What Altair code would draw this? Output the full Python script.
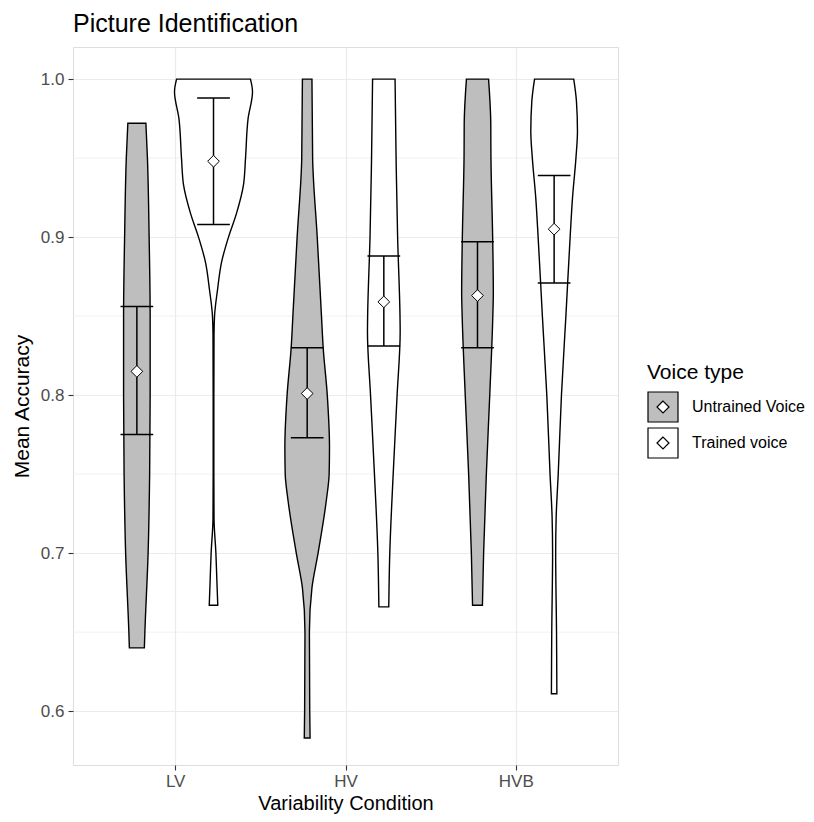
import altair as alt
import pandas as pd

categories = ["LV", "HV", "HVB"]
voice_types = ["Untrained Voice", "Trained voice"]

# ---- violin outlines: accuracy values and half-widths (category units) ----
lv_untrained_y = [0.640, 0.650, 0.700, 0.750, 0.800, 0.850, 0.900, 0.950, 0.972]
lv_untrained_w = [0.044, 0.047, 0.066, 0.075, 0.078, 0.078, 0.072, 0.062, 0.053]

lv_trained_y = [0.667, 0.685, 0.700, 0.722, 0.750, 0.800, 0.838, 0.850, 0.867,
                0.884, 0.900, 0.915, 0.933, 0.950, 0.975, 0.992, 1.000]
lv_trained_w = [0.025, 0.019, 0.014, 0.003, 0.002, 0.002, 0.003, 0.006, 0.024,
                0.047, 0.088, 0.135, 0.176, 0.188, 0.203, 0.229, 0.217]

hv_untrained_y = [0.583, 0.600, 0.650, 0.678, 0.700, 0.733, 0.750, 0.767, 0.800,
                  0.830, 0.850, 0.900, 0.950, 1.000]
hv_untrained_w = [0.017, 0.015, 0.013, 0.028, 0.064, 0.112, 0.129, 0.131, 0.118,
                  0.094, 0.084, 0.059, 0.032, 0.028]

hv_trained_y = [0.666, 0.700, 0.750, 0.800, 0.840, 0.850, 0.900, 0.950, 1.000]
hv_trained_w = [0.029, 0.035, 0.055, 0.078, 0.096, 0.095, 0.081, 0.072, 0.066]

hvb_untrained_y = [0.667, 0.700, 0.750, 0.800, 0.850, 0.865, 0.900, 0.950, 0.972, 1.000]
hvb_untrained_w = [0.029, 0.036, 0.052, 0.072, 0.090, 0.093, 0.089, 0.079, 0.078, 0.065]

hvb_trained_y = [0.611, 0.650, 0.700, 0.723, 0.750, 0.800, 0.850, 0.900, 0.925,
                 0.950, 0.967, 0.986, 1.000]
hvb_trained_w = [0.016, 0.014, 0.009, 0.012, 0.024, 0.043, 0.069, 0.094, 0.108,
                 0.128, 0.137, 0.131, 0.115]

# ---- means and error bars ----
mean_untrained = [0.815, 0.801, 0.863]
lower_untrained = [0.775, 0.773, 0.830]
upper_untrained = [0.856, 0.830, 0.897]
mean_trained = [0.948, 0.859, 0.905]
lower_trained = [0.908, 0.831, 0.871]
upper_trained = [0.988, 0.888, 0.939]

# ---- build tables ----
dodge = {"Untrained Voice": -0.225, "Trained voice": 0.225}
profiles = [
    ("LV", "Untrained Voice", lv_untrained_y, lv_untrained_w),
    ("LV", "Trained voice", lv_trained_y, lv_trained_w),
    ("HV", "Untrained Voice", hv_untrained_y, hv_untrained_w),
    ("HV", "Trained voice", hv_trained_y, hv_trained_w),
    ("HVB", "Untrained Voice", hvb_untrained_y, hvb_untrained_w),
    ("HVB", "Trained voice", hvb_trained_y, hvb_trained_w),
]
rows = []
for cat, vt, ys, ws in profiles:
    c = categories.index(cat) + 1 + dodge[vt]
    for y, w in zip(ys, ws):
        rows.append({"violin": cat + "-" + vt, "voice": vt, "value": y,
                     "left": c - w, "right": c + w})
vdf = pd.DataFrame(rows).sort_values(["violin", "value"])

cap = 0.096
erows = []
for i, cat in enumerate(categories):
    for vt, m, lo, hi in [("Untrained Voice", mean_untrained[i], lower_untrained[i], upper_untrained[i]),
                          ("Trained voice", mean_trained[i], lower_trained[i], upper_trained[i])]:
        c = i + 1 + dodge[vt]
        erows.append({"voice": vt, "x": c, "xl": c - cap, "xr": c + cap,
                      "mean": m, "lower": lo, "upper": hi})
edf = pd.DataFrame(erows)

minor_breaks = [0.65, 0.75, 0.85, 0.95]
mdf = pd.DataFrame({"v": minor_breaks})

FONT = "Liberation Sans"
xscale = alt.Scale(domain=[0.4, 3.6], nice=False, zero=False)
yscale = alt.Scale(domain=[0.5659, 1.0203], nice=False, zero=False)

xaxis = alt.Axis(values=[1, 2, 3], labelExpr="['LV','HV','HVB'][datum.value - 1]",
                 title="Variability Condition", grid=True, gridColor="#EBEBEB",
                 gridWidth=1.2, domain=False, tickColor="#333333", tickSize=5,
                 tickWidth=1.1, labelColor="#4D4D4D", labelFontSize=17, labelFont=FONT,
                 labelPadding=3, titleFont=FONT, titleFontSize=20, titleColor="black",
                 titleFontWeight="normal", titlePadding=4)
yaxis = alt.Axis(values=[0.6, 0.7, 0.8, 0.9, 1.0], format=".1f", title="Mean Accuracy",
                 grid=True, gridColor="#EBEBEB", gridWidth=1.2, domain=False,
                 tickColor="#333333", tickSize=5, tickWidth=1.1, labelColor="#4D4D4D",
                 labelFontSize=17, labelFont=FONT, labelPadding=4, titleFont=FONT,
                 titleFontSize=21, titleColor="black", titleFontWeight="normal",
                 titlePadding=8)

minor = alt.Chart(mdf).mark_rule(color="#EBEBEB", strokeWidth=0.7).encode(
    y=alt.Y("v:Q", scale=yscale, axis=yaxis)
)

legend_path = "M-1,-1H1V1H-1Z M0,-0.4L-0.4,0L0,0.4L0.4,0Z"
violins = alt.Chart(vdf).mark_area(
    orient="horizontal", stroke="black", strokeWidth=1.4, interpolate="monotone"
).encode(
    y=alt.Y("value:Q", scale=yscale, axis=yaxis),
    x=alt.X("left:Q", scale=xscale, axis=xaxis),
    x2="right:Q",
    fill=alt.Fill("voice:N",
                  scale=alt.Scale(domain=voice_types, range=["#BEBEBE", "#FFFFFF"]),
                  legend=alt.Legend(title="Voice type", orient="none", legendX=574,
                                    legendY=315, symbolType=legend_path, symbolSize=900,
                                    symbolStrokeColor="black", symbolStrokeWidth=1.2,
                                    symbolOpacity=1,
                                    titleFont=FONT, titleFontSize=21,
                                    titleFontWeight="normal", titleColor="black",
                                    titlePadding=8, labelFont=FONT, labelFontSize=16,
                                    labelColor="black", labelOffset=13, rowPadding=0,
                                    labelLimit=300)),
    detail="violin:N",
)

stems = alt.Chart(edf).mark_rule(color="black", strokeWidth=1.5).encode(
    x=alt.X("x:Q", scale=xscale), y=alt.Y("lower:Q", scale=yscale), y2="upper:Q"
)
caps_hi = alt.Chart(edf).mark_rule(color="black", strokeWidth=1.5).encode(
    x=alt.X("xl:Q", scale=xscale), x2="xr:Q", y=alt.Y("upper:Q", scale=yscale)
)
caps_lo = alt.Chart(edf).mark_rule(color="black", strokeWidth=1.5).encode(
    x=alt.X("xl:Q", scale=xscale), x2="xr:Q", y=alt.Y("lower:Q", scale=yscale)
)
means = alt.Chart(edf).mark_point(
    shape="diamond", size=137, filled=True, fill="white", stroke="black",
    strokeWidth=1, opacity=1
).encode(
    x=alt.X("x:Q", scale=xscale), y=alt.Y("mean:Q", scale=yscale)
)

chart = alt.layer(minor, violins, stems, caps_hi, caps_lo, means).properties(
    width=545, height=718,
    title=alt.TitleParams("Picture Identification", anchor="start", frame="group",
                          font=FONT, fontSize=25, fontWeight="normal", color="black",
                          offset=10),
    autosize=alt.AutoSizeParams(type="none"),
    padding={"left": 65, "top": 39, "right": 188, "bottom": 49},
).configure_view(stroke="#333333", strokeWidth=1.1).configure(background="white")

chart.save("out.html", embed_options={"renderer": "svg", "actions": False})
